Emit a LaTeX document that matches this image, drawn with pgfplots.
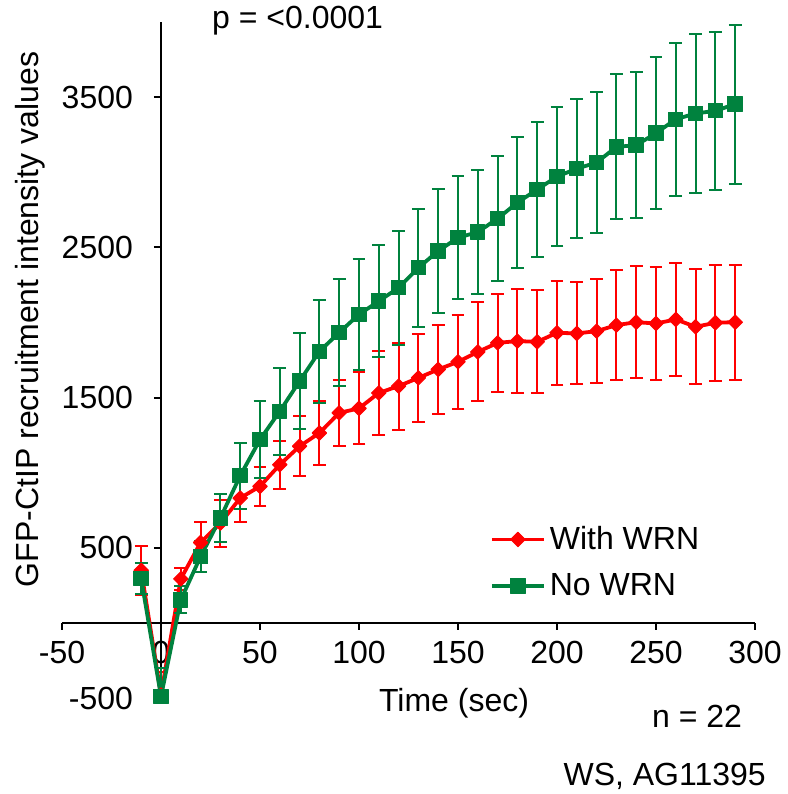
\documentclass[border=0pt]{standalone}
\usepackage{pgfplots}
\pgfplotsset{compat=1.18}
\usepackage{pgfplotstable}
\usepackage{fontspec}
\setmainfont{Liberation Sans}
\definecolor{wrnred}{RGB}{255,0,0}
\definecolor{wrngreen}{RGB}{0,130,62}

\pgfplotstableread{
x y ep em
-10 350 163 163
0 -480 150 20
10 293 75 75
20 535 136 136
30 664 156 156
40 831 162 162
50 909 131 131
60 1053 160 160
70 1176 200 200
80 1264 211 211
90 1398 220 220
100 1428 240 240
110 1531 280 280
120 1576 290 290
130 1631 291 291
140 1687 295 295
150 1738 312 312
160 1804 330 330
170 1864 325 325
180 1876 347 347
190 1871 343 343
200 1931 345 345
210 1927 340 340
220 1942 348 348
230 1982 368 368
240 2002 375 375
250 1993 373 373
260 2020 378 378
270 1971 383 383
280 1998 385 385
290 2002 382 382
}\withwrn

\pgfplotstableread{
x y ep em
-10 295 105 105
0 -490 190 10
10 153 90 90
20 442 106 106
30 698 160 160
40 980 219 219
50 1220 256 256
60 1409 290 290
70 1609 318 318
80 1807 343 343
90 1933 355 355
100 2053 368 368
110 2142 375 375
120 2231 378 378
130 2364 392 392
140 2476 412 412
150 2564 411 411
160 2602 411 411
170 2691 415 415
180 2798 438 438
190 2885 448 448
200 2971 460 460
210 3024 465 465
220 3064 470 470
230 3169 483 483
240 3180 488 488
250 3260 505 505
260 3353 508 508
270 3391 528 528
280 3409 525 525
290 3453 530 530
}\nowrn

\begin{document}
\begin{tikzpicture}
\path[use as bounding box] (0,0) rectangle (394pt,397pt);
\begin{axis}[
  at={(31pt,48pt)}, anchor=south west,
  scale only axis, width=346.5pt, height=338pt,
  xmin=-50, xmax=300, ymin=-500, ymax=4000,
  axis lines=middle,
  axis line style={-, line width=1pt, black},
  hide obscured x ticks=false, hide obscured y ticks=false,
  xtick={-50,0,50,100,150,200,250,300},
  xticklabels={-50,0,50,100,150,200,250,300},
  ytick={-500,500,1500,2500,3500},
  yticklabels={-500,500,1500,2500,3500},
  tick align=outside, major tick length=3.5pt,
  tick style={line width=1pt, black},
  ticklabel style={font=\fontsize{16}{19}\selectfont},
  xticklabel style={anchor=north, yshift=-2pt},
  yticklabel style={anchor=east, xshift=-7pt},
  clip=false,
  legend style={at={(axis cs:166,672)}, anchor=north west, draw=none, fill=none,
    font=\fontsize{16}{19}\selectfont, row sep=6.5pt, inner sep=0pt},
  legend cell align=left,
  legend image code/.code={
    \draw[mark repeat=2, mark phase=2] plot coordinates {(0pt,0pt) (13pt,0pt) (26pt,0pt)};
  },
]
\addplot[color=wrnred, line width=1.9pt, line join=round, mark=square*, mark size=2.55pt,
  mark options={solid, fill=wrnred, line width=0.5pt, rotate=45},
  error bars/.cd, y dir=both, y explicit,
  error bar style={line width=1pt, color=wrnred},
  error mark options={rotate=90, mark size=3.2pt, line width=1pt, color=wrnred}]
  table[x=x, y=y, y error plus=ep, y error minus=em] {\withwrn};
\addlegendentry{With WRN}
\addplot[color=wrngreen, line width=1.9pt, line join=round, mark=square*, mark size=3.6pt,
  mark options={solid, fill=wrngreen, line width=0.5pt},
  error bars/.cd, y dir=both, y explicit,
  error bar style={line width=1pt, color=wrngreen},
  error mark options={rotate=90, mark size=3.2pt, line width=1pt, color=wrngreen}]
  table[x=x, y=y, y error plus=ep, y error minus=em] {\nowrn};
\addlegendentry{No WRN}

\node[rotate=90, font=\fontsize{16}{19}\selectfont] at (axis cs:-66,2020) {GFP-CtIP recruitment intensity values};
\node[font=\fontsize{16}{19}\selectfont] at (axis cs:69,4010) {p = <0.0001};
\node[font=\fontsize{16}{19}\selectfont] at (axis cs:148,-533) {Time (sec)};
\node[font=\fontsize{16}{19}\selectfont, anchor=east] at (axis cs:297,-620) {n = 22};
\node[font=\fontsize{16}{19}\selectfont, anchor=east] at (axis cs:309,-1020) {WS, AG11395};
\end{axis}
\end{tikzpicture}
\end{document}
